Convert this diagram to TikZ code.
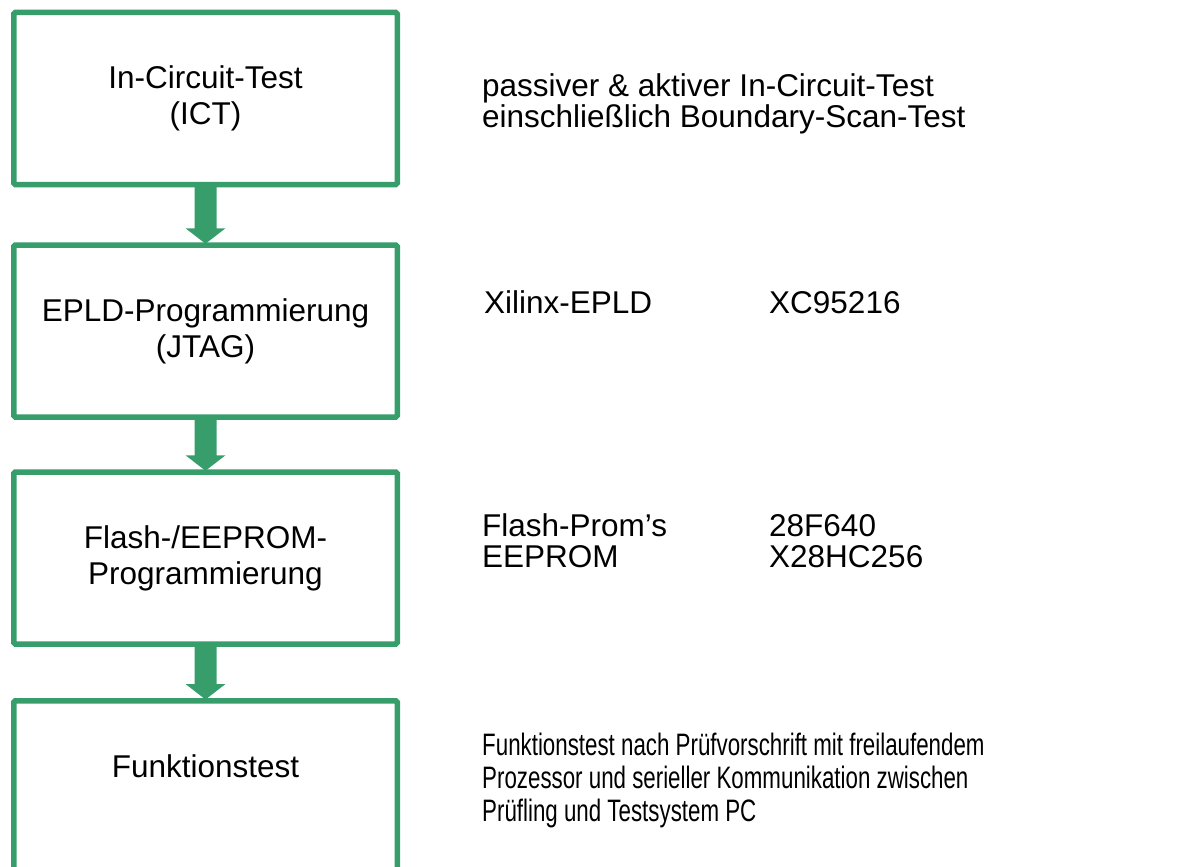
\documentclass[tikz,border=0pt]{standalone}
\usepackage{fontspec}
\setmainfont{Liberation Sans}
\newfontfamily\narrowfont[FakeStretch=0.72]{Liberation Sans}
\usetikzlibrary{calc}
\definecolor{flowgreen}{RGB}{55,157,106}

% thick block arrow from the bottom of one box to the top of the next
\newcommand\blockarrow[2]{%
  \fill[flowgreen]
    ($(#1.south)+(-11pt,2pt)$) -- ($(#2.north)+(-11pt,14pt)$) --
    ($(#2.north)+(-20pt,14pt)$) -- ($(#2.north)+(0pt,-1.5pt)$) --
    ($(#2.north)+(20pt,14pt)$) -- ($(#2.north)+(11pt,14pt)$) --
    ($(#1.south)+(11pt,2pt)$) -- cycle;}

\begin{document}
\begin{tikzpicture}[x=1pt,y=1pt,
  stepbox/.style={draw=flowgreen, line width=5.5pt, rounded corners=1.5pt,
    minimum width=383.5pt, minimum height=172pt, inner sep=0pt,
    align=center, font=\fontsize{31.5}{36}\selectfont},
  desc/.style={anchor=base west, inner sep=0pt, align=left,
    font=\fontsize{31.5}{31}\selectfont},
]
\useasboundingbox (0,0) rectangle (1184,-867);

% process steps
\node[stepbox] (ict)   at (205.5,-98.5)  {In-Circuit-Test\\(ICT)};
\node[stepbox] (epld)  at (205.5,-331) {EPLD-Programmierung\\(JTAG)};
\node[stepbox] (flash) at (205.5,-558)   {Flash-/EEPROM-\\Programmierung};
\node[stepbox] (func)  at (205.5,-786.75) {};
\node[anchor=base, inner sep=0pt, font=\fontsize{31.5}{36}\selectfont]
  (funclabel) at (205.5,-777) {Funktionstest};

\blockarrow{ict}{epld}
\blockarrow{epld}{flash}
\blockarrow{flash}{func}

% descriptions (base anchor sits on the last line)
\node[desc] (ictdesc) at (482,-127)
  {passiver \& aktiver In-Circuit-Test\\einschließlich Boundary-Scan-Test};
\node[desc] (epldname) at (484,-313) {Xilinx-EPLD};
\node[desc] (epldtype) at (769,-313) {XC95216};
\node[desc] (flashname) at (482,-567) {Flash-Prom’s\\EEPROM};
\node[desc] (flashtype) at (769,-567) {28F640\\X28HC256};
\node[desc, font=\narrowfont\fontsize{31}{33}\selectfont] (funcdesc) at (482,-821)
  {Funktionstest nach Prüfvorschrift mit freilaufendem\\
   Prozessor und serieller Kommunikation zwischen\\
   Prüfling und Testsystem PC};
\end{tikzpicture}
\end{document}
